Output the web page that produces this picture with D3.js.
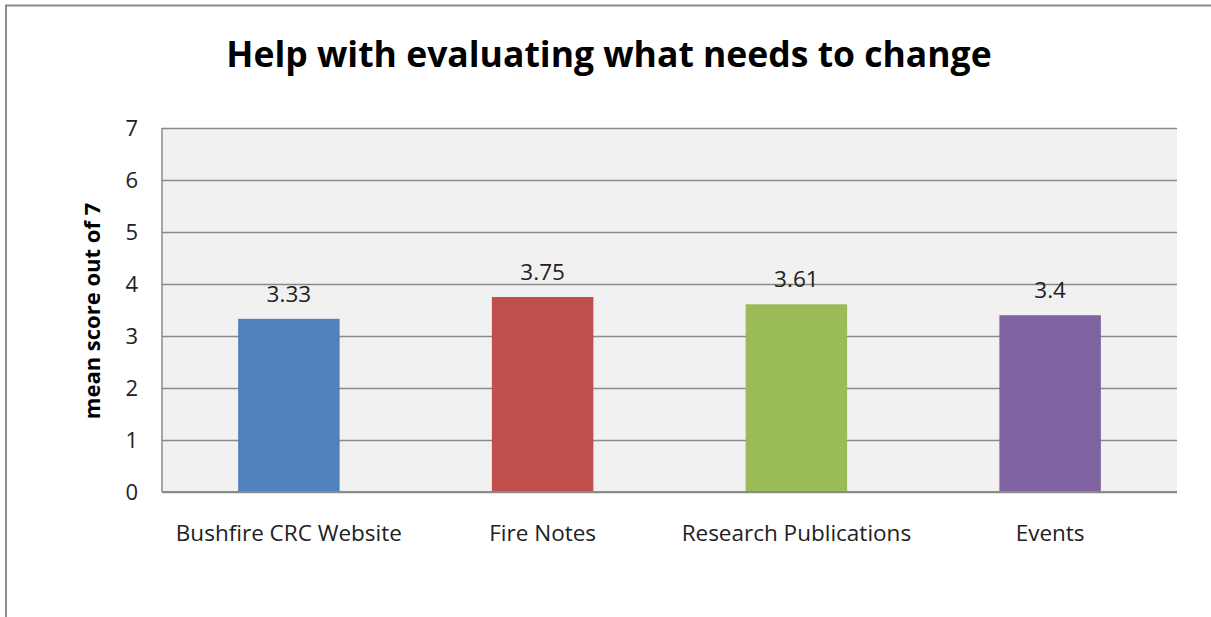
<!DOCTYPE html>
<html><head><meta charset="utf-8">
<script src="https://cdn.jsdelivr.net/npm/d3@7"></script>
<style>body{margin:0;background:#fff}svg{display:block}</style>
</head><body><svg id="c" width="1211" height="617"></svg>
<script>
const categories = ["Bushfire CRC Website","Fire Notes","Research Publications","Events"];
const values = [3.33, 3.75, 3.61, 3.4];
const valueLabels = ["3.33","3.75","3.61","3.4"];
const colors = ["#4F81BD","#C0504D","#9BBB59","#8064A2"];
const yTicks = [0,1,2,3,4,5,6,7];
const title = "Help with evaluating what needs to change";
const yTitle = "mean score out of 7";

const svg = d3.select("#c");
const font = "'Open Sans', 'DejaVu Sans', sans-serif";
// outer frame (top and left edges only visible)
svg.append("path").attr("d","M6,617 V5.5 H1211").attr("fill","none")
  .attr("stroke","#8c8c8c").attr("stroke-width",2);

const L=162, R=1177, T=128, B=492;
const x = d3.scaleBand().domain(categories).range([L,R]).paddingInner(0.6).paddingOuter(0.3);
const y = d3.scaleLinear().domain([0,7]).range([B,T]);

svg.append("rect").attr("x",L).attr("y",T).attr("width",R-L).attr("height",B-T).attr("fill","#f1f1f1");

const g = svg.append("g").attr("transform",`translate(${L},0)`);
const ax = d3.axisLeft(y).tickValues(yTicks).tickSize(-(R-L)).tickPadding(24).tickFormat(d3.format("d"));
g.call(ax);
g.select(".domain").remove();
g.selectAll(".tick line").attr("stroke","#8a8a8a").attr("stroke-width",1.3);
g.selectAll(".tick text").attr("font-family",font).attr("font-size",22).attr("fill","#222");

svg.append("line").attr("x1",L).attr("x2",L).attr("y1",T).attr("y2",B).attr("stroke","#8a8a8a").attr("stroke-width",1.5);

svg.selectAll("rect.bar").data(values).enter().append("rect").attr("class","bar")
  .attr("x",(d,i)=>x(categories[i])).attr("width",x.bandwidth())
  .attr("y",d=>y(d)).attr("height",d=>B-y(d)).attr("fill",(d,i)=>colors[i]);

svg.append("line").attr("x1",L).attr("x2",R).attr("y1",B).attr("y2",B).attr("stroke","#8a8a8a").attr("stroke-width",1.8);

svg.selectAll("text.val").data(values).enter().append("text").attr("class","val")
  .attr("x",(d,i)=>x(categories[i])+x.bandwidth()/2).attr("y",d=>y(d)-17)
  .attr("text-anchor","middle").attr("font-family",font).attr("font-size",22.5).attr("fill","#222")
  .text((d,i)=>valueLabels[i]);

const xa = svg.append("g").attr("transform",`translate(0,${B})`)
  .call(d3.axisBottom(x).tickSize(0).tickPadding(33));
xa.select(".domain").remove();
xa.selectAll("text").attr("font-family",font).attr("font-size",22.5).attr("fill","#222");

svg.append("text").attr("x",609).attr("y",67).attr("text-anchor","middle")
  .attr("font-family",font).attr("font-weight","bold").attr("font-size",35.5).attr("fill","#000").text(title);

svg.append("text").attr("transform","translate(100,311) rotate(-90)").attr("text-anchor","middle")
  .attr("font-family",font).attr("font-weight","bold").attr("font-size",22).attr("fill","#000").text(yTitle);
</script></body></html>
